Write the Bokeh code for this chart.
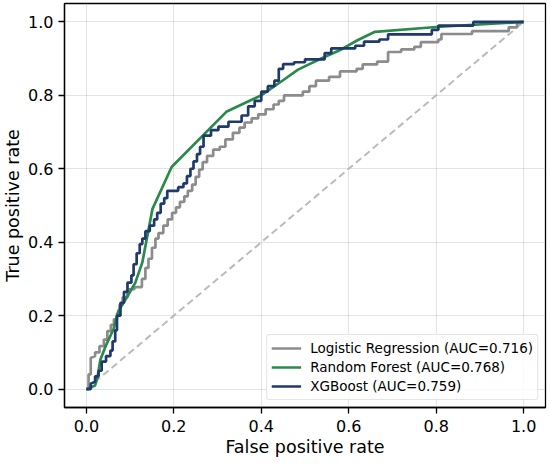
from bokeh.plotting import figure
from bokeh.models import Range1d, FixedTicker, NumeralTickFormatter, Legend, LegendItem
from bokeh.embed import file_html
from bokeh.resources import INLINE

# ---- data ----
lr_fpr = [0, 0.005, 0.005, 0.01, 0.01, 0.02, 0.02, 0.03, 0.03, 0.04, 0.04, 0.048, 0.048, 0.056, 0.056,
          0.063, 0.063, 0.07, 0.07, 0.076, 0.076, 0.083, 0.083, 0.094, 0.094, 0.11, 0.11, 0.127, 0.127,
          0.135, 0.135, 0.142, 0.142, 0.15, 0.15, 0.158, 0.158, 0.165, 0.165, 0.176, 0.176, 0.186, 0.186,
          0.196, 0.196, 0.205, 0.205, 0.214, 0.214, 0.224, 0.224, 0.232, 0.232, 0.242, 0.242, 0.25, 0.25,
          0.258, 0.258, 0.266, 0.266, 0.276, 0.276, 0.29, 0.29, 0.305, 0.305, 0.318, 0.318, 0.335, 0.335,
          0.35, 0.35, 0.362, 0.362, 0.378, 0.378, 0.393, 0.393, 0.41, 0.41, 0.428, 0.428, 0.44, 0.44,
          0.452, 0.452, 0.495, 0.495, 0.51, 0.51, 0.525, 0.525, 0.555, 0.555, 0.58, 0.58, 0.618, 0.618,
          0.632, 0.632, 0.665, 0.665, 0.69, 0.69, 0.72, 0.72, 0.75, 0.75, 0.765, 0.765, 0.805, 0.805,
          0.812, 0.812, 0.882, 0.882, 0.966, 0.966, 0.985, 0.985, 1.0]
lr_tpr = [0, 0.0, 0.04, 0.04, 0.085, 0.09, 0.10, 0.10, 0.117, 0.117, 0.135, 0.135, 0.158, 0.158, 0.175,
          0.175, 0.19, 0.19, 0.205, 0.205, 0.23, 0.23, 0.25, 0.25, 0.272, 0.272, 0.278, 0.278, 0.30,
          0.30, 0.33, 0.33, 0.355, 0.355, 0.385, 0.385, 0.41, 0.41, 0.425, 0.425, 0.445, 0.445, 0.462,
          0.462, 0.48, 0.48, 0.495, 0.495, 0.51, 0.51, 0.525, 0.525, 0.54, 0.54, 0.557, 0.557, 0.578,
          0.578, 0.598, 0.598, 0.618, 0.618, 0.635, 0.635, 0.652, 0.652, 0.66, 0.66, 0.68, 0.68, 0.698,
          0.698, 0.712, 0.712, 0.726, 0.726, 0.737, 0.737, 0.748, 0.748, 0.762, 0.762, 0.775, 0.775, 0.785,
          0.785, 0.80, 0.80, 0.81, 0.81, 0.825, 0.825, 0.84, 0.84, 0.85, 0.85, 0.865, 0.865, 0.872,
          0.872, 0.884, 0.884, 0.892, 0.892, 0.918, 0.918, 0.925, 0.925, 0.932, 0.932, 0.945, 0.945, 0.952,
          0.952, 0.967, 0.967, 0.975, 0.975, 0.985, 0.985, 0.995, 1.0]

rf_fpr = [0, 0.02, 0.025, 0.032, 0.044, 0.062, 0.073, 0.094, 0.112, 0.128, 0.151, 0.195, 0.32, 0.40,
          0.445, 0.484, 0.537, 0.583, 0.62, 0.66, 0.80, 1.0]
rf_tpr = [0, 0.01, 0.03, 0.08, 0.117, 0.163, 0.212, 0.253, 0.29, 0.345, 0.49, 0.605, 0.755, 0.80,
          0.837, 0.87, 0.90, 0.925, 0.95, 0.973, 0.986, 1.0]

xgb_fpr = [0, 0.01, 0.01, 0.02, 0.02, 0.028, 0.028, 0.035, 0.035, 0.045, 0.045, 0.055, 0.055, 0.06, 0.06,
           0.066, 0.066, 0.07, 0.07, 0.078, 0.078, 0.086, 0.086, 0.094, 0.094, 0.103, 0.103, 0.108, 0.108,
           0.115, 0.115, 0.122, 0.122, 0.128, 0.128, 0.135, 0.135, 0.145, 0.145, 0.155, 0.155, 0.162, 0.162,
           0.17, 0.17, 0.178, 0.178, 0.185, 0.185, 0.21, 0.21, 0.222, 0.222, 0.23, 0.23, 0.238, 0.238,
           0.245, 0.245, 0.253, 0.253, 0.26, 0.26, 0.268, 0.268, 0.285, 0.285, 0.302, 0.302, 0.325, 0.325,
           0.355, 0.355, 0.37, 0.37, 0.385, 0.385, 0.4, 0.4, 0.415, 0.415, 0.43, 0.43, 0.44, 0.44,
           0.45, 0.45, 0.475, 0.475, 0.5, 0.5, 0.545, 0.545, 0.56, 0.56, 0.615, 0.615, 0.635, 0.635,
           0.67, 0.67, 0.69, 0.69, 0.79, 0.79, 0.805, 0.805, 0.885, 0.885, 1.0]
xgb_tpr = [0, 0.0, 0.015, 0.02, 0.035, 0.035, 0.05, 0.05, 0.075, 0.075, 0.09, 0.09, 0.105, 0.105, 0.13,
           0.13, 0.16, 0.16, 0.2, 0.2, 0.235, 0.235, 0.265, 0.265, 0.29, 0.29, 0.31, 0.31, 0.34,
           0.34, 0.37, 0.37, 0.395, 0.395, 0.41, 0.41, 0.43, 0.43, 0.445, 0.445, 0.462, 0.462, 0.48,
           0.48, 0.505, 0.505, 0.52, 0.52, 0.54, 0.54, 0.55, 0.55, 0.56, 0.56, 0.58, 0.58, 0.6,
           0.6, 0.62, 0.62, 0.64, 0.64, 0.66, 0.66, 0.69, 0.69, 0.705, 0.705, 0.715, 0.715, 0.728,
           0.728, 0.745, 0.745, 0.77, 0.77, 0.785, 0.785, 0.81, 0.81, 0.825, 0.825, 0.84, 0.84, 0.872,
           0.872, 0.885, 0.885, 0.89, 0.89, 0.898, 0.898, 0.915, 0.915, 0.928, 0.928, 0.935, 0.935, 0.946,
           0.946, 0.952, 0.952, 0.966, 0.966, 0.978, 0.978, 0.99, 0.99, 1.0, 1.0]

chance_x = [0, 1]
chance_y = [0, 1]

labels = ["Logistic Regression (AUC=0.716)", "Random Forest (AUC=0.768)", "XGBoost (AUC=0.759)"]
colors = ["#8c8c8c", "#2a8a4c", "#1f3a6b"]
ticks = [0.0, 0.2, 0.4, 0.6, 0.8, 1.0]

FONT = "DejaVu Sans"

p = figure(width=550, height=464, output_backend="svg", toolbar_location=None,
           x_range=Range1d(-0.05, 1.05), y_range=Range1d(-0.05, 1.05),
           min_border_left=64, min_border_right=5, min_border_top=3, min_border_bottom=57)
p.background_fill_color = "white"
p.outline_line_color = "black"
p.outline_line_width = 1.3

p.xaxis.axis_label = "False positive rate"
p.yaxis.axis_label = "True positive rate"
for ax in (p.xaxis[0], p.yaxis[0]):
    ax.ticker = FixedTicker(ticks=ticks)
    ax.formatter = NumeralTickFormatter(format="0.0")
    ax.minor_tick_line_color = None
    ax.major_tick_in = 0
    ax.major_tick_out = 6
    ax.major_tick_line_width = 1.3
    ax.major_tick_line_color = "black"
    ax.axis_line_color = "black"
    ax.axis_line_width = 1.3
    ax.major_label_text_font = FONT
    ax.major_label_text_font_size = "16px"
    ax.major_label_text_color = "black"
    ax.axis_label_text_font = FONT
    ax.axis_label_text_font_size = "17.5px"
    ax.axis_label_text_font_style = "normal"
    ax.axis_label_text_color = "black"
p.xaxis[0].major_label_standoff = 6
p.xaxis[0].axis_label_standoff = 2
p.yaxis[0].major_label_standoff = 5
p.yaxis[0].axis_label_standoff = 2

p.xgrid.ticker = FixedTicker(ticks=ticks)
p.ygrid.ticker = FixedTicker(ticks=ticks)
p.grid.grid_line_color = "#b0b0b0"
p.grid.grid_line_alpha = 0.35
p.grid.grid_line_width = 1

p.line(chance_x, chance_y, line_color="#bbbbbb", line_width=2, line_dash="7 4")
r_lr = p.line(lr_fpr, lr_tpr, line_color=colors[0], line_width=2.7)
r_rf = p.line(rf_fpr, rf_tpr, line_color=colors[1], line_width=2.7)
r_xgb = p.line(xgb_fpr, xgb_tpr, line_color=colors[2], line_width=2.7)

legend = Legend(items=[LegendItem(label=labels[0], renderers=[r_lr]),
                       LegendItem(label=labels[1], renderers=[r_rf]),
                       LegendItem(label=labels[2], renderers=[r_xgb])],
                location="bottom_right")
legend.label_text_font = FONT
legend.label_text_font_size = "13.5px"
legend.label_text_color = "black"
legend.glyph_width = 30
legend.glyph_height = 18
legend.label_height = 18
legend.label_standoff = 9
legend.spacing = 1
legend.padding = 4
legend.margin = 7
legend.border_line_color = "#cccccc"
legend.border_line_width = 1
legend.border_radius = 3
legend.background_fill_color = "white"
legend.background_fill_alpha = 0.8
p.add_layout(legend)

open("out.html", "w").write(file_html(p, INLINE))
